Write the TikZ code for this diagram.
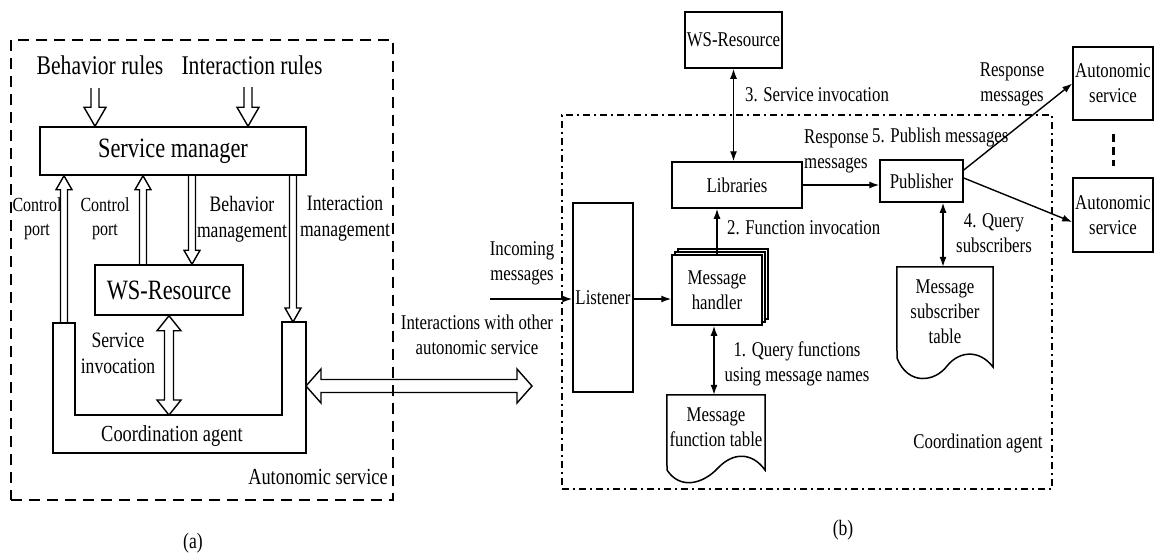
\documentclass[tikz,border=0pt]{standalone}
\usepackage{fontspec}
\setmainfont{Liberation Serif}[FakeStretch=0.8]
\usetikzlibrary{calc,arrows.meta,shadows}
\newcommand\hollowarrow[6][]{%
  \coordinate (hah) at ($(#3)!#6!(#2)$);
  \draw[hollow,#1] ($(#2)!#4!90:(#3)$) -- ($(hah)!#4!90:(#3)$) -- ($(hah)!#5!90:(#3)$) -- (#3) -- ($(hah)!#5!-90:(#3)$) -- ($(hah)!#4!-90:(#3)$) -- ($(#2)!#4!-90:(#3)$);}
\newcommand\hollowdarrow[6][]{%
  \coordinate (hah) at ($(#3)!#6!(#2)$);
  \coordinate (hab) at ($(#2)!#6!(#3)$);
  \draw[hollow,#1] (#2) -- ($(hab)!#5!90:(#3)$) -- ($(hab)!#4!90:(#3)$) -- ($(hah)!#4!90:(#3)$) -- ($(hah)!#5!90:(#3)$) -- (#3) -- ($(hah)!#5!-90:(#3)$) -- ($(hah)!#4!-90:(#3)$) -- ($(hab)!#4!-90:(#3)$) -- ($(hab)!#5!-90:(#3)$) -- cycle;}
\newcommand\fs[1]{\fontsize{#1}{\numexpr #1*6/5\relax}\selectfont}
\tikzset{
  hollow/.style={line width=1.4pt, line join=miter},
  box/.style={draw, line width=1.5pt, inner sep=0pt, align=center, font=\fs{21}},
  lbl/.style={inner sep=0pt, align=center, font=\fs{21}},
  conn/.style={line width=1.4pt, -{Latex[length=10pt,width=7pt]}},
  dconn/.style={line width=1.4pt, {Latex[length=10pt,width=7pt]}-{Latex[length=10pt,width=7pt]}},
  outerdash/.style={draw, line width=1.8pt, dash pattern=on 11pt off 7pt, inner sep=0pt},
  dashdot/.style={draw, line width=1.5pt, dash pattern=on 7pt off 4pt on 2pt off 4pt, inner sep=0pt},
}
\begin{document}
\begin{tikzpicture}[x=1pt,y=-1pt]
\useasboundingbox (0,0) rectangle (1155,558);
% ---------------- (a) ----------------
\node[outerdash, minimum width=382, minimum height=460] (outA) at (202,270) {};
\node[lbl, font=\fs{27}] (br) at (100,65) {Behavior rules};
\node[lbl, font=\fs{27}] (ir) at (252,65) {Interaction rules};
\node[box, minimum width=266, minimum height=48, font=\fs{28}] (sm) at (173,151) {Service manager};
\node[box, minimum width=148, minimum height=50, font=\fs{28}] (wsA) at (169,290) {WS-Resource};
\draw[line width=1.5pt] (53,323) -- (53,453) -- (306,453) -- (306,322) -- (282,322) -- (282,415) -- (75,415) -- (75,323) -- cycle;
\node[lbl, font=\fs{23}] (caA) at (172,436) {Coordination agent};
\node[lbl, font=\fs{23}] (asA) at (318,477) {Autonomic service};
\node[lbl, font=\fs{22}] at (193,543) {(a)};
% labels
\node[lbl, font=\fs{20}] (cpl1) at (37,219) {Control\\port};
\node[lbl, font=\fs{20}] (cpl2) at (105,219) {Control\\port};
\node[lbl, font=\fs{22}] (bml) at (242,219) {Behavior\\management};
\node[lbl, font=\fs{22}] (iml) at (345,219) {Interaction\\management};
\node[lbl, font=\fs{22}] (sil) at (118,353) {Service\\invocation};
% hollow arrows
\coordinate (brS) at (95,88);  \coordinate (brE) at (brS |- sm.north);
\coordinate (irS) at (248,87); \coordinate (irE) at (irS |- sm.north);
\hollowarrow{brS}{brE}{4pt}{11pt}{19pt}
\hollowarrow{irS}{irE}{4pt}{11pt}{19pt}
\coordinate (cp1S) at (64,323); \coordinate (cp1E) at (cp1S |- sm.south);
\hollowarrow{cp1S}{cp1E}{3.5pt}{8pt}{14pt}
\path (wsA.north) ++(-26,0) coordinate (cp2S); \coordinate (cp2E) at (cp2S |- sm.south);
\hollowarrow{cp2S}{cp2E}{3.5pt}{8pt}{14pt}
\path (sm.south) ++(19,0) coordinate (bmS); \coordinate (bmE) at (bmS |- wsA.north);
\hollowarrow{bmS}{bmE}{3.5pt}{8pt}{14pt}
\path (sm.south) ++(120,0) coordinate (imS); \coordinate (imE) at (293,322);
\hollowarrow{imS}{imE}{3.5pt}{8pt}{14pt}
\coordinate (siS) at (wsA.south); \coordinate (siE) at (siS |- 0,415);
\hollowdarrow{siS}{siE}{4.5pt}{12pt}{15pt}
\coordinate (ixS) at (306,386); \coordinate (ixE) at (532,386);
\hollowdarrow{ixS}{ixE}{6.5pt}{17pt}{15pt}
\node[lbl] (ixl) at (477,335) {Interactions with other\\autonomic service};
% ---------------- (b) ----------------
\node[dashdot, minimum width=490, minimum height=374] (outB) at (807,302) {};
\node[box, minimum width=97, minimum height=56] (wsB) at (733.5,40) {WS-Resource};
\node[box, minimum width=130, minimum height=46] (lib) at (737,185) {Libraries};
\node[box, minimum width=60, minimum height=189] (lst) at (603,297.5) {};
\node[lbl] at (603,298) {Listener};
\node[box, fill=white, minimum width=90, minimum height=70,
      double copy shadow={shadow xshift=3pt, shadow yshift=3pt}] (mh) at (717,290) {Message\\handler};
\node[lbl, minimum width=98, minimum height=64] (mft) at (716,427) {Message\\function table};
\draw[line width=1.5pt] (mft.north west) -- (mft.north east) -- (765,470)
  .. controls (752,452) and (733,452) .. (718,468)
  .. controls (703,484) and (680,490) .. (667,470) -- cycle;
\node[box, minimum width=83, minimum height=42] (pub) at (921.5,181) {Publisher};
\node[lbl, minimum width=96, minimum height=90] (mst) at (945,312) {Message\\subscriber\\table};
\draw[line width=1.5pt] (mst.north west) -- (mst.north east) -- (993,367)
  .. controls (980,350) and (960,350) .. (947,366)
  .. controls (935,382) and (908,386) .. (897,358) -- cycle;
\node[box, minimum width=80, minimum height=73] (as1) at (1113,83.5) {Autonomic\\service};
\node[box, minimum width=80, minimum height=74] (as2) at (1113,215) {Autonomic\\service};
\node[lbl] (caB) at (978,443) {Coordination agent};
\node[lbl, font=\fs{22}] at (843,530) {(b)};
% connectors
\draw[dconn] (wsB.south) -- (wsB.south |- lib.north);
\draw[conn] (mh.north) -- (mh.north |- lib.south);
\coordinate (inc) at (490,299);
\draw[conn] (inc) -- (lst.west |- inc);
\draw[conn] (lst.east |- inc) -- (mh.west |- inc);
\coordinate (q1) at ($(mh.south)+(-3,0)$);
\coordinate (q2) at (q1 |- mft.north);
\draw[dconn] (q1) -- (q2);
\draw[conn] (lib.east) -- (lib.east -| pub.west);
\coordinate (q3) at ($(mst.north)+(-2,0)$);
\coordinate (q4) at (q3 |- pub.south);
\draw[dconn] (q4) -- (q3);
\draw[conn] ($(pub.east)+(0,-11)$) -- (as1.west);
\draw[conn] ($(pub.east)+(0,-3)$) -- ($(as2.west)+(0,7)$);
\draw[line width=3pt, dash pattern=on 8pt off 5pt] ($(as1.south)+(0,13)$) -- ($(as2.north)+(0,-11)$);
% labels (b)
\node[lbl, anchor=west] at (745,95) {3. Service invocation};
\node[lbl, anchor=west, align=left] at (804,151) {Response\\messages};
\node[lbl, anchor=west] at (872,137) {5. Publish messages};
\node[lbl, anchor=west] at (727,228) {2. Function invocation};
\node[lbl] at (797,364) {1. Query functions\\using message names};
\node[lbl] at (994,233) {4. Query\\subscribers};
\node[lbl] at (1012,84) {Response\\messages};
\node[lbl] at (522,263) {Incoming\\messages};
\end{tikzpicture}
\end{document}
